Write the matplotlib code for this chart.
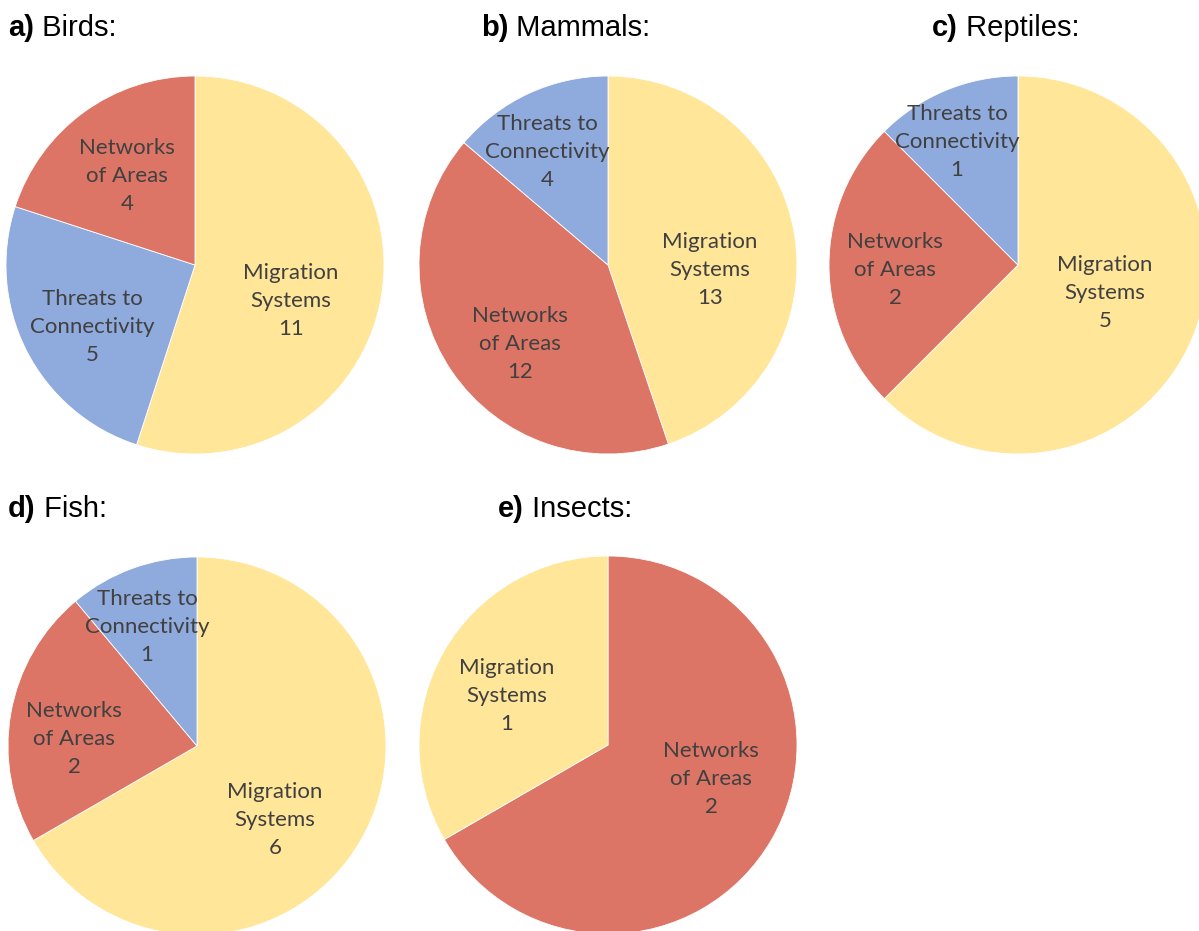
import matplotlib.pyplot as plt

# taxa and counts of studies per connectivity theme
mig, net, thr = "Migration\nSystems", "Networks\nof Areas", "Threats to\nConnectivity"

birds_labels = [mig, thr, net]
birds_values = [11, 5, 4]

mammals_labels = [mig, net, thr]
mammals_values = [13, 12, 4]

reptiles_labels = [mig, net, thr]
reptiles_values = [5, 2, 1]

fish_labels = [mig, net, thr]
fish_values = [6, 2, 1]

insects_labels = [net, mig]
insects_values = [2, 1]

colours = {mig: "#FFE699", net: "#DC7566", thr: "#8FAADC"}

W, H = 1199, 931
fig = plt.figure(figsize=(W / 100, H / 100), dpi=100)
ax = fig.add_axes([0, 0, 1, 1])

# title anchor, pie centre and label offsets (pixels, y down) for each panel
panels = [
    ("a)", " Birds:", birds_labels, birds_values, (8, 36), (195, 265),
     [(96, 36), (-103, 62), (-68, -89)]),
    ("b)", " Mammals:", mammals_labels, mammals_values, (481, 36), (608, 265),
     [(102, 5), (-88, 79), (-61, -113)]),
    ("c)", " Reptiles:", reptiles_labels, reptiles_values, (932, 36), (1018, 265),
     [(87, 28), (-123, 5), (-61, -123)]),
    ("d)", " Fish:", fish_labels, fish_values, (8, 517), (197, 746),
     [(78, 74), (-123, -7), (-50, -119)]),
    ("e)", " Insects:", insects_labels, insects_values, (498, 517), (608, 745),
     [(103, 34), (-101, -49)]),
]

R = 189
for tag, name, labels, values, (tx, ty), (cx, cy), offsets in panels:
    wedges, _ = ax.pie(
        values,
        colors=[colours[l] for l in labels],
        startangle=90,
        counterclock=False,
        center=(cx, H - cy),
        radius=R,
        wedgeprops=dict(edgecolor="white", linewidth=0.6),
    )
    for l, v, (dx, dy) in zip(labels, values, offsets):
        ax.text(cx + dx, H - cy - dy, f"{l}\n{v}", ha="center", va="center",
                multialignment="center", family="Lato", fontsize=16,
                color="#404040", linespacing=1.52)

    t = ax.text(tx, H - ty, tag, fontsize=21, fontweight="bold",
                family="Liberation Sans", va="baseline", ha="left")
    ax.annotate(name, xy=(1, 0), xycoords=t, fontsize=21,
                family="Liberation Sans", va="bottom", ha="left")

ax.set_xlim(0, W)
ax.set_ylim(0, H)
ax.set_aspect("equal")
ax.set_axis_off()

fig.savefig("out.png", dpi=100)
